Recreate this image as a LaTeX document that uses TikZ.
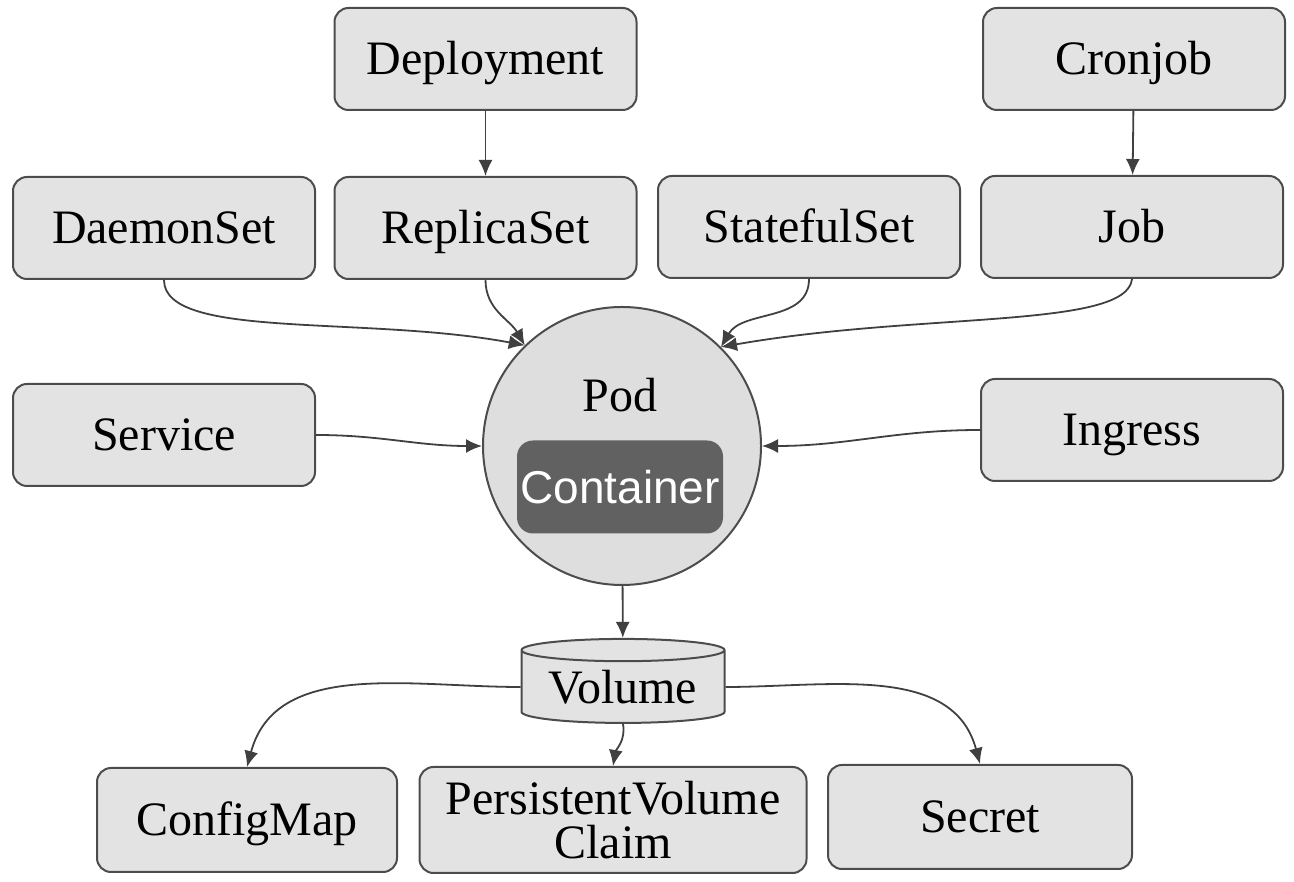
\documentclass[tikz,border=0pt]{standalone}
\usepackage{fontspec}
\setmainfont{Liberation Serif}
\newfontfamily\containerfont{Liberation Sans}
\usetikzlibrary{arrows.meta,shapes.geometric,positioning}
\tikzset{
  kbox/.style={draw=black!70, fill=black!11, line width=1pt, rounded corners=7pt,
    minimum width=151pt, minimum height=51pt, inner sep=2pt, align=center,
    font=\fontsize{24}{22}\selectfont},
  kline/.style={kbox, text height=16pt, text depth=0pt},
  link/.style={draw=black!75, line width=0.9pt, -{Latex[length=8pt,width=7pt]}},
}
\begin{document}
\begin{tikzpicture}[x=0.5pt,y=0.5pt]
  \useasboundingbox (0,0) rectangle (1294,882);
  %top row
  \node[kline] (deploy) at (485.5,823) {Deployment};
  \node[kline] (cron) at (1134,823) {Cronjob};
  %second row
  \node[kline] (daemon) at (164,654) {DaemonSet};
  \node[kline] (replica) at (485.5,654) {ReplicaSet};
  \node[kline] (stateful) at (809,655) {StatefulSet};
  \node[kline] (job) at (1132,655) {Job};
  %middle
  \node[kline] (service) at (164,447) {Service};
  \node[kline] (ingress) at (1132,452) {Ingress};
  \node[circle, draw=black!70, fill=black!13, line width=1pt, minimum size=139pt, inner sep=0pt] (pod) at (622,436) {};
  \node[font=\fontsize{24}{28}\selectfont] (podname) at (620,487) {Pod};
  \node[fill=black!62, rounded corners=8pt, minimum width=103pt, minimum height=46.5pt, inner sep=0pt,
    text=white, font=\containerfont\fontsize{23}{27}\selectfont] (container) at (620,395) {Container};
  %volume
  \node[cylinder, shape border rotate=90, aspect=0.15, draw=black!70, fill=black!11, line width=1pt,
    minimum width=101.5pt, minimum height=42pt, inner sep=0pt,
    font=\fontsize{24}{28}\selectfont] (volume) at (623,195) {Volume};
  %bottom row
  \node[kline, minimum width=150pt, minimum height=52pt] (config) at (247,62) {ConfigMap};
  \node[kbox, minimum width=193.5pt, minimum height=53pt] (pvc) at (613,62) {PersistentVolume\\Claim};
  \node[kline, minimum width=152pt, minimum height=52pt] (secret) at (980,65) {Secret};
  %arrows
  \draw[link] (deploy) -- (replica);
  \draw[link] (cron) -- (job);
  \draw[link] (daemon.south) .. controls +(0,-60) and +(-160,30) .. (pod.134);
  \draw[link] (replica.south) to[out=-90, in=120] (pod.134);
  \draw[link] (stateful.south) to[out=-90, in=60] (pod.45);
  \draw[link] (job.south) .. controls +(-5,-50) and +(200,35) .. (pod.45);
  \draw[link] (service.east) to[out=0, in=180] (pod.west);
  \draw[link] (ingress.west) to[out=180, in=0] (pod.east);
  \draw[link] (pod) -- (volume);
  \draw[link] (volume.west) to[out=180, in=75] (config.north);
  \draw[link] (volume.south) to[out=-80, in=80] (pvc.north);
  \draw[link] (volume.east) to[out=0, in=105] (secret.north);
\end{tikzpicture}
\end{document}
